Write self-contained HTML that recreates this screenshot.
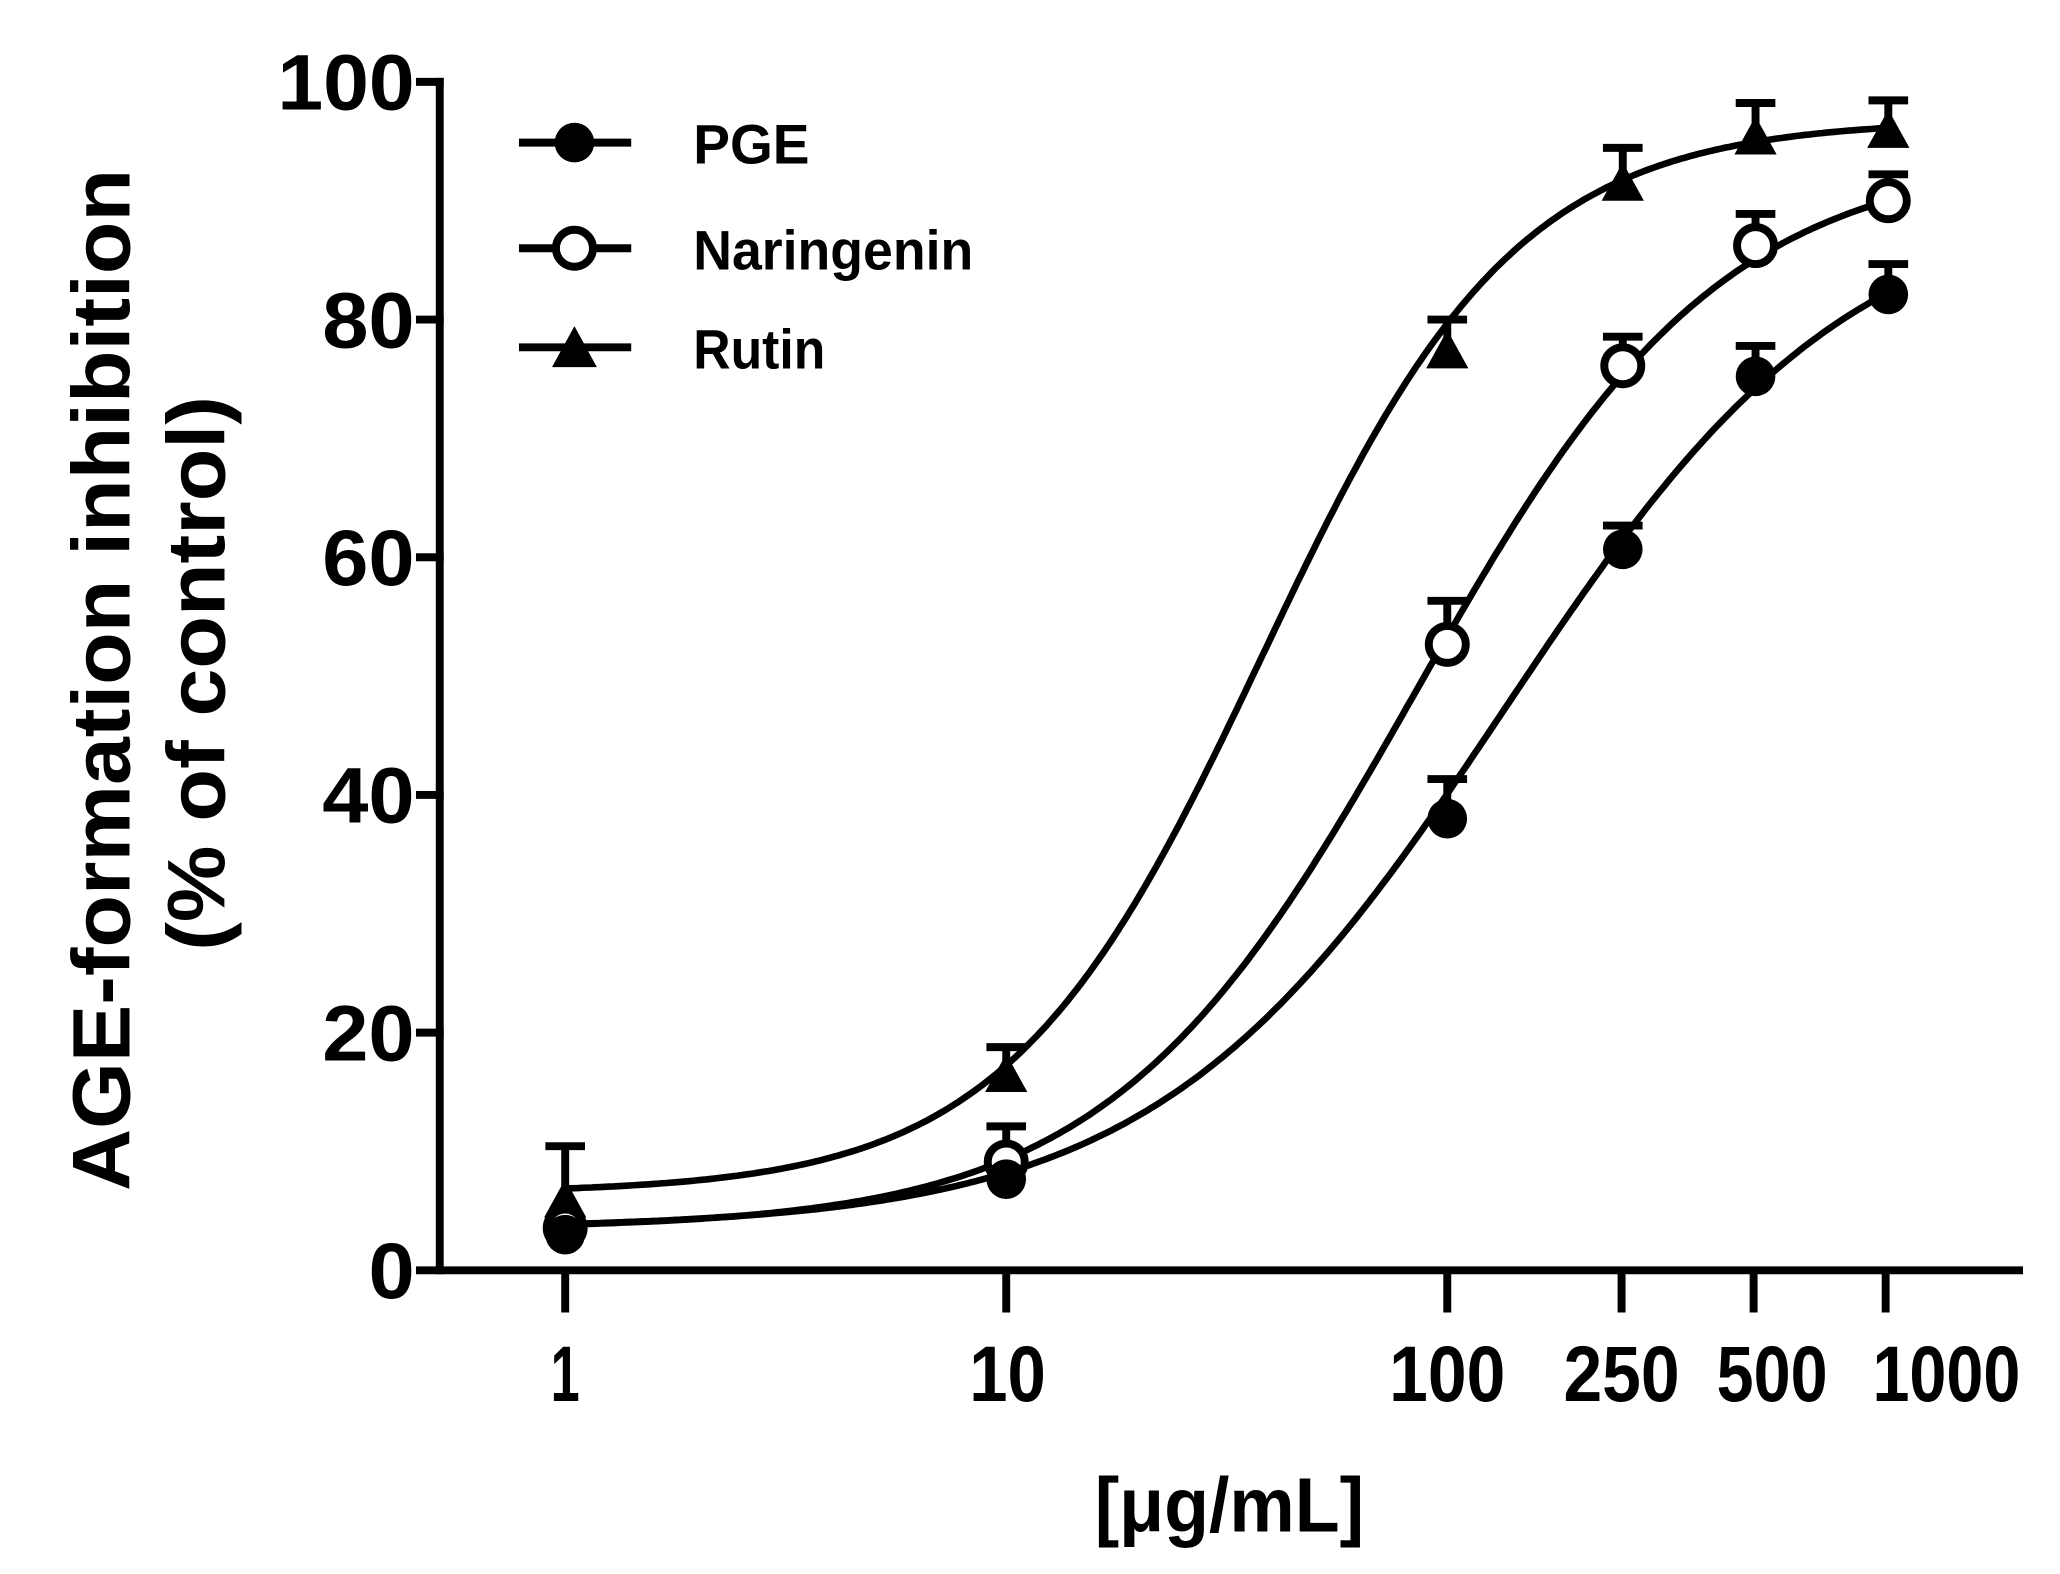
<!DOCTYPE html>
<html><head><meta charset="utf-8"><style>
html,body{margin:0;padding:0;background:#fff;}
svg{display:block;}
text{font-family:"Liberation Sans",Arial,sans-serif;font-weight:bold;fill:#000;}
</style></head><body>
<svg id="s" width="2060" height="1574" viewBox="0 0 1560 1192" xmlns="http://www.w3.org/2000/svg">
<g stroke="#000" stroke-width="6" fill="none" stroke-linecap="butt">
<path d="M333 59 V965 M330 962 H1532"/>
<path d="M315 62 H336 M315 242 H336 M315 422 H336 M315 602 H336 M315 782 H336 M315 962 H336"/>
<path d="M428 962 V994 M762 962 V994 M1096 962 V994 M1228 962 V994 M1328 962 V994 M1428 962 V994"/>
</g>
<g font-size="60" text-anchor="end">
<text x="314" y="83" textLength="104" lengthAdjust="spacingAndGlyphs">100</text>
<text x="314" y="263" textLength="70" lengthAdjust="spacingAndGlyphs">80</text>
<text x="314" y="443" textLength="70" lengthAdjust="spacingAndGlyphs">60</text>
<text x="314" y="623" textLength="70" lengthAdjust="spacingAndGlyphs">40</text>
<text x="314" y="803" textLength="70" lengthAdjust="spacingAndGlyphs">20</text>
<text x="314" y="983" textLength="35" lengthAdjust="spacingAndGlyphs">0</text>
</g>
<g font-size="60">
<text x="417" y="1061" textLength="22" lengthAdjust="spacingAndGlyphs">1</text>
<text x="734" y="1061" textLength="58" lengthAdjust="spacingAndGlyphs">10</text>
<text x="1052" y="1061" textLength="88" lengthAdjust="spacingAndGlyphs">100</text>
<text x="1184" y="1061" textLength="88" lengthAdjust="spacingAndGlyphs">250</text>
<text x="1300" y="1061" textLength="84" lengthAdjust="spacingAndGlyphs">500</text>
<text x="1418" y="1061" textLength="112" lengthAdjust="spacingAndGlyphs">1000</text>
<text x="829" y="1160" font-size="58" textLength="204" lengthAdjust="spacingAndGlyphs">[μg/mL]</text>
</g>
<g font-size="62" text-anchor="middle">
<text transform="translate(98,515) rotate(-90)" textLength="774" lengthAdjust="spacingAndGlyphs">AGE-formation inhibition</text>
<text transform="translate(170,510) rotate(-90)" textLength="420" lengthAdjust="spacingAndGlyphs">(% of control)</text>
</g>
<g stroke="#000" stroke-width="6">
<path d="M393 108 H478 M393 188 H478 M393 263 H478"/>
</g>
<circle cx="435" cy="108" r="15" fill="#000"/>
<circle cx="435" cy="188" r="14" fill="#fff" stroke="#000" stroke-width="6"/>
<path d="M435 247 L452 278 L418 278 Z" fill="#000"/>
<g font-size="42">
<text x="525" y="124" textLength="88" lengthAdjust="spacingAndGlyphs">PGE</text>
<text x="525" y="204" textLength="212" lengthAdjust="spacingAndGlyphs">Naringenin</text>
<text x="525" y="279" textLength="100" lengthAdjust="spacingAndGlyphs">Rutin</text>
</g>
<g id="plot"></g>
</svg>
<script>
var X=function(c){return 428+334*Math.log10(c)};
var Y=function(v){return 962-9*v};
function curve(b,t,ec,h){var d="";for(var i=0;i<=300;i++){var l=i/100;var c=Math.pow(10,l);var v=b+(t-b)/(1+Math.pow(ec/c,h));d+=(i?"L":"M")+X(c).toFixed(1)+" "+Y(v).toFixed(1);}return d;}
var g=document.getElementById("plot"),html="";
html+='<path d="'+curve(3.5,91,135,1.1)+'" stroke="#000" stroke-width="5" fill="none"/>';
html+='<path d="'+curve(3.5,94,85,1.25)+'" stroke="#000" stroke-width="5" fill="none"/>';
html+='<path d="'+curve(6.5,96.8,38,1.5)+'" stroke="#000" stroke-width="5" fill="none"/>';
var cs=[1,10,100,250,500,1000];
var pge=[[935,925],[893,880],[620,590],[416,398],[285,262],[223,200]];
var nar=[[930,925],[880,853],[488,455],[277,255],[186,162],[152,132]];
var rut=[[910,868],[815,793],[267,242],[140,112],[105,78],[100,76]];
function eb(x,y,top){return '<path d="M'+x+' '+y+' V'+top+' M'+(x-15)+' '+top+' H'+(x+15)+'" stroke="#000" stroke-width="6"/>';}
for(var i=0;i<6;i++){var x=X(cs[i]);
html+=eb(x,rut[i][0],rut[i][1]);html+=eb(x,nar[i][0],nar[i][1]);html+=eb(x,pge[i][0],pge[i][1]);
html+='<path d="M'+x+' '+(rut[i][0]-17)+' L'+(x+16)+' '+(rut[i][0]+12)+' L'+(x-16)+' '+(rut[i][0]+12)+' Z" fill="#000"/>';
html+='<circle cx="'+x+'" cy="'+nar[i][0]+'" r="14" fill="#fff" stroke="#000" stroke-width="6"/>';
html+='<circle cx="'+x+'" cy="'+pge[i][0]+'" r="15" fill="#000"/>';}
g.innerHTML=html;
</script>
</body></html>
